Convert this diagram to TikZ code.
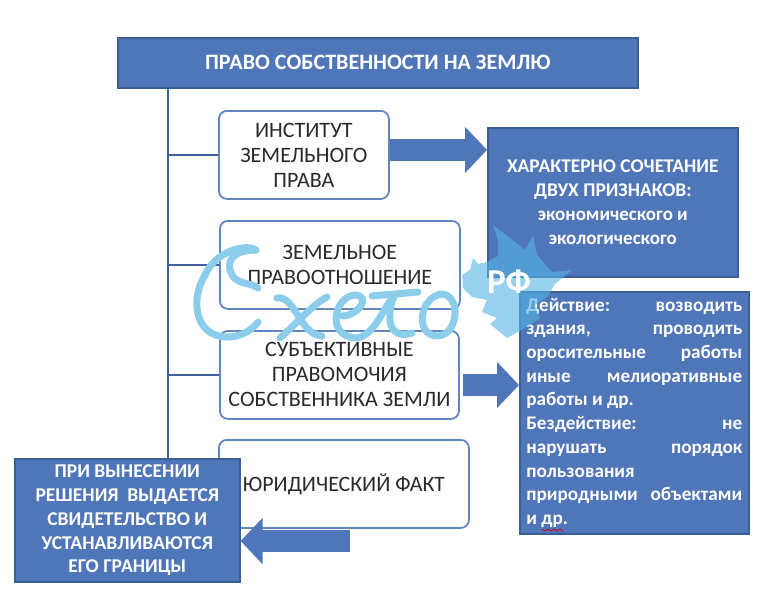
\documentclass[tikz,border=0pt]{standalone}
\usepackage{fontspec}
\setmainfont{Carlito}
\usetikzlibrary{arrows.meta,calc}
\definecolor{bluefill}{HTML}{4F76B8}
\definecolor{blueedge}{HTML}{3A5F92}
\definecolor{softedge}{HTML}{6287BD}
\definecolor{trunkcol}{HTML}{3F6296}
\definecolor{wmcol}{HTML}{8CCDEC}
\definecolor{wmblob}{HTML}{55B5E5}
\definecolor{ink}{HTML}{2A2A2A}
\tikzset{
  x=1pt,y=-1pt,
  filled/.style={draw=blueedge,line width=1.6pt,fill=bluefill,text=white,font=\bfseries,align=center,inner sep=0pt,anchor=north west},
  plain/.style={draw=softedge,line width=1.8pt,rounded corners=8pt,fill=white,text=ink,align=center,inner sep=0pt,anchor=north west,font=\fontsize{22}{25}\selectfont},
  branch/.style={draw=trunkcol,line width=1.8pt},
  fat/.style={draw=bluefill,line width=22pt,-{Triangle[length=22pt,width=45pt,fill=bluefill]}},
  wmline/.style={draw=wmcol,line width=7pt,line cap=round,line join=round},
}
\newcommand{\jl}[2]{\hbox to 216pt{#1\hfill #2}}
\begin{document}
\begin{tikzpicture}
\useasboundingbox (0,0) rectangle (774,600);
\fill[white] (0,0) rectangle (774,600);
\coordinate (start3) at (463,385);
\coordinate (start4) at (350,541);
\coordinate (trunkend) at (168,458);
\node[filled,minimum width=520pt,minimum height=50pt,font=\bfseries\fontsize{22}{24}\selectfont] (title) at (117,37) {ПРАВО СОБСТВЕННОСТИ НА ЗЕМЛЮ};
\node[plain,minimum width=170pt,minimum height=88pt] (inst) at (218,110) {ИНСТИТУТ\\ЗЕМЕЛЬНОГО\\ПРАВА};
\node[plain,minimum width=240pt,minimum height=88pt] (rel) at (219,220) {ЗЕМЕЛЬНОЕ\\ПРАВООТНОШЕНИЕ};
\node[plain,minimum width=239pt,minimum height=88pt] (subj) at (219,330) {СУБЪЕКТИВНЫЕ\\ПРАВОМОЧИЯ\\СОБСТВЕННИКА ЗЕМЛИ};
\node[plain,minimum width=250pt,minimum height=88pt] (fact) at (218,439) {ЮРИДИЧЕСКИЙ ФАКТ};
\node[filled,minimum width=250pt,minimum height=149pt,font=\bfseries\fontsize{19.4}{24}\selectfont] (trait) at (487,127) {ХАРАКТЕРНО СОЧЕТАНИЕ\\ДВУХ ПРИЗНАКОВ:\\\fontsize{19}{24}\selectfont экономического и\\\fontsize{19}{24}\selectfont экологического};
\node[filled,minimum width=229pt,minimum height=242pt,align=left,font=\bfseries\fontsize{19.2}{23.7}\selectfont] (act) at (519,291) {\jl{Действие:}{возводить}\\\jl{здания,}{проводить}\\\jl{оросительные}{работы}\\\jl{иные}{мелиоративные}\\\jl{работы и др.}{}\\\jl{Бездействие:}{не}\\\jl{нарушать}{порядок}\\\jl{пользования}{}\\\jl{природными}{объектами}\\\jl{и др.}{}};
\draw[branch] (title.south -| trunkend) -- (trunkend);
\draw[branch] (inst.west -| trunkend) -- (inst.west);
\draw[branch] (rel.west -| trunkend) -- (rel.west);
\draw[branch] (subj.west -| trunkend) -- (subj.west);
\node[filled,minimum width=225pt,minimum height=123pt,font=\bfseries\fontsize{19.5}{23.8}\selectfont] (dec) at (14,458) {ПРИ ВЫНЕСЕНИИ\\РЕШЕНИЯ\ \ ВЫДАЕТСЯ\\СВИДЕТЕЛЬСТВО И\\УСТАНАВЛИВАЮТСЯ\\ЕГО ГРАНИЦЫ};
\draw[fat] ([yshift=5pt]inst.east) -- ([yshift=5pt]inst.east -| trait.west);
\draw[fat] (start3) -- (start3 -| act.west);
\draw[fat] (start4) -- (start4 -| dec.east);
\draw[red!80!black,line width=0.7pt] (542,529) -- (545,531) -- (548,529) -- (551,531) -- (554,529) -- (557,531) -- (560,529) -- (563,531);
% watermark
\fill[wmblob,opacity=0.6] (462,275) -- (470,270) -- (473,258) -- (478,264) -- (487,262) -- (498,256) -- (498,240) -- (493,225) -- (510,238) -- (525,250) -- (533,235) -- (537,255) -- (552,272) -- (572,270) -- (555,284) -- (548,296) -- (535,305) -- (540,318) -- (525,328) -- (507,338) -- (490,324) -- (497,318) -- (482,312) -- (487,300) -- (472,297) -- (463,288) -- cycle;
\node[text=white,font=\bfseries\fontsize{35}{36}\selectfont] (rf) at (509,282) {РФ};
\draw[wmline] (256,250) .. controls (245,243) and (215,252) .. (205,275) .. controls (190,300) and (195,335) .. (225,337) .. controls (240,338) and (252,330) .. (258,322);
\draw[wmline] (256,250) .. controls (232,250) and (225,262) .. (232,275) .. controls (238,285) and (250,282) .. (258,288);
\draw[wmline] (277,298) .. controls (295,295) and (300,335) .. (322,336);
\draw[wmline] (327,297) .. controls (312,305) and (295,325) .. (280,338);
\draw[wmline] (342,316) .. controls (358,316) and (372,296) .. (355,295) .. controls (335,296) and (325,335) .. (355,338) .. controls (372,338) and (382,312) .. (392,298);
\draw[wmline] (372,296) -- (418,292);
\draw[wmline] (394,296) .. controls (385,320) and (390,340) .. (412,333);
\draw[wmline] (442,294) .. controls (420,296) and (414,335) .. (437,336) .. controls (458,336) and (462,296) .. (442,294) -- cycle;
\end{tikzpicture}
\end{document}
